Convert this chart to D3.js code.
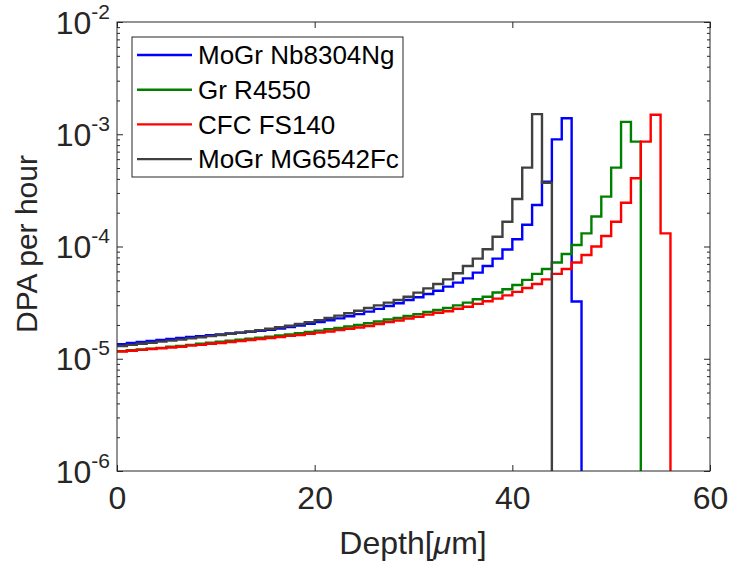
<!DOCTYPE html>
<html>
<head>
<meta charset="utf-8">
<script src="https://cdn.jsdelivr.net/npm/d3@7"></script>
<style>
  body { margin: 0; background: #fff; }
  svg { display: block; font-family: "Liberation Sans", Arial, Helvetica, sans-serif; }
  .axis text { fill: #262626; }
  .axis line { stroke: #262626; }
</style>
</head>
<body>
<svg id="chart" width="729" height="563"></svg>
<script>
// DPA per hour per 1 um depth bin, one array per material
var names = ["MoGr Nb8304Ng", "Gr R4550", "CFC FS140", "MoGr MG6542Fc"];
var colors = ["#0000ff", "#008000", "#ff0000", "#404040"];

var blueVals = [1.35e-5, 1.38e-5, 1.41e-5, 1.44e-5, 1.47e-5, 1.50e-5, 1.53e-5, 1.56e-5, 1.59e-5, 1.62e-5,
  1.65e-5, 1.68e-5, 1.71e-5, 1.74e-5, 1.77e-5, 1.81e-5, 1.86e-5, 1.92e-5, 1.98e-5, 2.05e-5,
  2.12e-5, 2.20e-5, 2.29e-5, 2.39e-5, 2.50e-5, 2.63e-5, 2.78e-5, 2.95e-5, 3.12e-5, 3.34e-5,
  3.53e-5, 3.77e-5, 4.04e-5, 4.39e-5, 4.77e-5, 5.20e-5, 5.85e-5, 6.70e-5, 7.80e-5, 9.40e-5,
  1.16e-4, 1.56e-4, 2.34e-4, 3.77e-4, 9.00e-4, 1.39e-3, 3.24e-5];

var greenVals = [1.17e-5, 1.19e-5, 1.21e-5, 1.23e-5, 1.25e-5, 1.28e-5, 1.30e-5, 1.33e-5, 1.36e-5, 1.39e-5,
  1.42e-5, 1.45e-5, 1.48e-5, 1.51e-5, 1.54e-5, 1.57e-5, 1.61e-5, 1.65e-5, 1.69e-5, 1.73e-5,
  1.78e-5, 1.83e-5, 1.88e-5, 1.94e-5, 2.00e-5, 2.07e-5, 2.15e-5, 2.24e-5, 2.31e-5, 2.40e-5,
  2.50e-5, 2.61e-5, 2.72e-5, 2.83e-5, 2.99e-5, 3.16e-5, 3.39e-5, 3.57e-5, 3.89e-5, 4.16e-5,
  4.54e-5, 5.04e-5, 5.70e-5, 6.30e-5, 7.20e-5, 8.57e-5, 1.03e-4, 1.31e-4, 1.85e-4, 2.78e-4,
  5.04e-4, 1.29e-3, 8.60e-4];

var redVals = [1.16e-5, 1.18e-5, 1.20e-5, 1.22e-5, 1.24e-5, 1.26e-5, 1.28e-5, 1.31e-5, 1.33e-5, 1.36e-5,
  1.38e-5, 1.41e-5, 1.44e-5, 1.47e-5, 1.50e-5, 1.53e-5, 1.56e-5, 1.60e-5, 1.63e-5, 1.67e-5,
  1.71e-5, 1.75e-5, 1.80e-5, 1.85e-5, 1.90e-5, 1.96e-5, 2.04e-5, 2.12e-5, 2.19e-5, 2.28e-5,
  2.37e-5, 2.47e-5, 2.57e-5, 2.65e-5, 2.79e-5, 2.91e-5, 3.08e-5, 3.25e-5, 3.43e-5, 3.67e-5,
  3.94e-5, 4.27e-5, 4.64e-5, 5.10e-5, 5.70e-5, 6.30e-5, 7.20e-5, 8.40e-5, 1.00e-4, 1.24e-4,
  1.66e-4, 2.45e-4, 4.05e-4, 8.60e-4, 1.49e-3, 1.31e-4];

var grayVals = [1.30e-5, 1.33e-5, 1.36e-5, 1.39e-5, 1.42e-5, 1.45e-5, 1.48e-5, 1.52e-5, 1.55e-5, 1.59e-5,
  1.63e-5, 1.67e-5, 1.71e-5, 1.75e-5, 1.80e-5, 1.85e-5, 1.91e-5, 1.97e-5, 2.04e-5, 2.12e-5,
  2.21e-5, 2.31e-5, 2.42e-5, 2.54e-5, 2.68e-5, 2.83e-5, 2.99e-5, 3.16e-5, 3.34e-5, 3.57e-5,
  3.88e-5, 4.24e-5, 4.64e-5, 5.10e-5, 5.77e-5, 6.70e-5, 7.80e-5, 9.44e-5, 1.22e-4, 1.66e-4,
  2.65e-4, 5.04e-4, 1.51e-3, 3.70e-4];

var xTicks = [0, 20, 40, 60];
var yExps = [-6, -5, -4, -3, -2];

var series = [blueVals, greenVals, redVals, grayVals];

var svg = d3.select("#chart");
var mLeft = 117, mRight = 710, mTop = 22, mBottom = 471;

var x = d3.scaleLinear().domain([0, 60]).range([mLeft, mRight]);
var y = d3.scaleLog().domain([1e-6, 1e-2]).range([mBottom, mTop]);

var majors = yExps.map(function(e) { return Math.pow(10, e); });

// minor ticks for the log axis
var minors = [];
yExps.slice(0, -1).forEach(function(e) {
	for (var k = 2; k <= 9; k++) minors.push(k * Math.pow(10, e));
});

// x axis bottom + mirrored top
var gx = svg.append("g").attr("class", "axis")
	.attr("transform", "translate(0," + mBottom + ")")
	.call(d3.axisBottom(x).tickValues(xTicks).tickSizeInner(-6).tickSizeOuter(0).tickPadding(15));
gx.select(".domain").remove();
gx.selectAll("text").attr("font-size", 32).attr("dy", "0.71em");

svg.append("g").attr("class", "axis")
	.attr("transform", "translate(0," + mTop + ")")
	.call(d3.axisTop(x).tickValues(xTicks).tickSizeInner(-6).tickSizeOuter(0).tickFormat(""))
	.select(".domain").remove();

// y axis major ticks with superscript labels
var gy = svg.append("g").attr("class", "axis")
	.attr("transform", "translate(" + mLeft + ",0)")
	.call(d3.axisLeft(y).tickValues(majors).tickSizeInner(-6).tickSizeOuter(0).tickFormat(""));
gy.select(".domain").remove();
gy.selectAll(".tick text").remove();
gy.selectAll(".tick").append("text")
	.attr("x", -7)
	.attr("y", 11)
	.attr("text-anchor", "end")
	.each(function(d) {
		var t = d3.select(this);
		t.append("tspan").attr("font-size", 32).text("10");
		t.append("tspan").attr("font-size", 21).attr("dy", -15).text(Math.round(Math.log10(d)));
	});

svg.append("g").attr("class", "axis")
	.attr("transform", "translate(" + mLeft + ",0)")
	.call(d3.axisLeft(y).tickValues(minors).tickSizeInner(-3).tickSizeOuter(0).tickFormat(""))
	.select(".domain").remove();

svg.append("g").attr("class", "axis")
	.attr("transform", "translate(" + mRight + ",0)")
	.call(d3.axisRight(y).tickValues(majors).tickSizeInner(-6).tickSizeOuter(0).tickFormat(""))
	.select(".domain").remove();

svg.append("g").attr("class", "axis")
	.attr("transform", "translate(" + mRight + ",0)")
	.call(d3.axisRight(y).tickValues(minors).tickSizeInner(-3).tickSizeOuter(0).tickFormat(""))
	.select(".domain").remove();

// stairs
var line = d3.line()
	.x(function(d) { return x(d[0]); })
	.y(function(d) { return y(d[1]); })
	.curve(d3.curveStepAfter);

series.forEach(function(vals, s) {
	var pts = vals.map(function(v, i) { return [i, v]; });
	pts.push([vals.length, vals[vals.length - 1]]);
	pts.push([vals.length, 1e-6]);
	svg.append("path")
		.attr("d", line(pts))
		.attr("fill", "none")
		.attr("stroke", colors[s])
		.attr("stroke-width", 2.4);
});

// axes box
svg.append("rect")
	.attr("x", mLeft).attr("y", mTop)
	.attr("width", mRight - mLeft).attr("height", mBottom - mTop)
	.attr("fill", "none").attr("stroke", "#262626").attr("stroke-width", 1);

// axis labels
var xl = svg.append("text")
	.attr("x", 413).attr("y", 554)
	.attr("text-anchor", "middle").attr("font-size", 32).attr("fill", "#262626");
xl.append("tspan").text("Depth[");
xl.append("tspan").attr("font-style", "italic").text("μ");
xl.append("tspan").text("m]");

svg.append("text")
	.attr("transform", "translate(37,244) rotate(-90)")
	.attr("text-anchor", "middle").attr("font-size", 30).attr("fill", "#262626")
	.text("DPA per hour");

// legend
var lg = svg.append("g");
lg.append("rect")
	.attr("x", 132).attr("y", 37).attr("width", 271).attr("height", 140)
	.attr("fill", "#fff").attr("stroke", "#262626").attr("stroke-width", 1);
names.forEach(function(n, i) {
	var yy = 55 + i * 34.7;
	lg.append("line")
		.attr("x1", 137).attr("x2", 192).attr("y1", yy).attr("y2", yy)
		.attr("stroke", colors[i]).attr("stroke-width", 2.4);
	lg.append("text")
		.attr("x", 198).attr("y", yy).attr("dy", "0.35em")
		.attr("font-size", 26).attr("fill", "#000")
		.text(n);
});
</script>
</body>
</html>
